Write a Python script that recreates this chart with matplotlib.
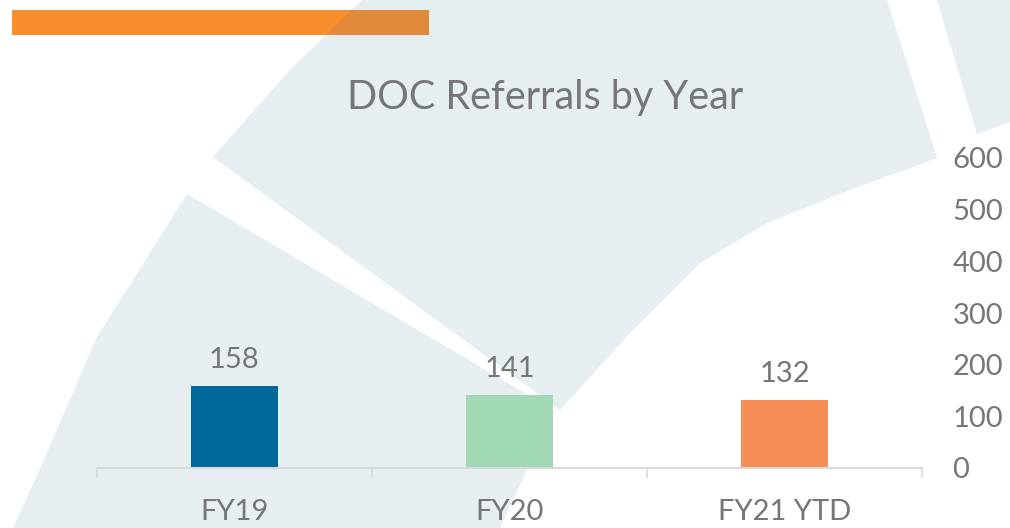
import numpy as np
import matplotlib
matplotlib.use('Agg')
import matplotlib.pyplot as plt
from matplotlib.patches import Polygon, Rectangle

# data
categories = ['FY19', 'FY20', 'FY21 YTD']
referrals = [158, 141, 132]
bar_colors = ['#006899', '#A0D9B4', '#F68E58']
yticks = [0, 100, 200, 300, 400, 500, 600]

text_col = '#767676'
plt.rcParams['font.family'] = ['Lato', 'DejaVu Sans']

fig = plt.figure(figsize=(10.10, 5.28), dpi=100)

# background watermark shapes (pixel coords of the slide)
bg = fig.add_axes([0, 0, 1, 1], zorder=0)
bg.set_xlim(0, 1010)
bg.set_ylim(528, 0)
bg.axis('off')
pale = '#E6EEF2'
shape_a = [(362, 0), (887, 0), (937, 158), (850, 190), (767, 223), (700, 263),
           (633, 330), (560, 410), (213, 157), (290, 70)]
shape_b = [(187, 194), (545, 405), (533, 457), (500, 528), (13, 528),
           (39, 471), (97, 337)]
shape_e = [(937, 0), (1010, 0), (1010, 122), (977, 134)]
for s in (shape_a, shape_b, shape_e):
    bg.add_patch(Polygon(s, closed=True, facecolor=pale, edgecolor='none'))

# orange header bar, darker where the watermark overlaps
hdr = Rectangle((12, 10), 417, 25, facecolor='#F78E2B', edgecolor='none')
bg.add_patch(hdr)
over = Polygon(shape_a, closed=True, facecolor='#E0893A', edgecolor='none')
bg.add_patch(over)
over.set_clip_path(hdr)

# chart
ax = fig.add_axes([97 / 1010, 60 / 528, 825 / 1010, 310 / 528], zorder=1)
ax.patch.set_visible(False)
x = np.arange(len(categories))
bars = ax.bar(x, referrals, width=0.316, color=bar_colors, zorder=2)
ax.set_xlim(-0.5, 2.5)
ax.set_ylim(0, 600)

for xi, v in zip(x, referrals):
    ax.annotate(str(v), (xi, v), xytext=(0, 13), textcoords='offset points',
                ha='center', va='baseline', fontsize=21, color=text_col)

for sp in ['top', 'left', 'right']:
    ax.spines[sp].set_visible(False)
ax.spines['bottom'].set_color('#D9D9D9')
ax.spines['bottom'].set_linewidth(1.5)

ax.set_xticks(x)
ax.set_xticklabels(categories, fontsize=21, color=text_col)
ax.tick_params(axis='x', which='major', length=0, pad=22)
ax.set_xticks([-0.5, 0.5, 1.5, 2.5], minor=True)
ax.tick_params(axis='x', which='minor', length=7.5, width=1.2, color='#D9D9D9')

ax.yaxis.tick_right()
ax.set_yticks(yticks)
ax.set_yticklabels([str(t) for t in yticks], fontsize=21, color=text_col, ha='left')
ax.tick_params(axis='y', length=0, pad=22)

fig.text(545 / 1010, 1 - 97 / 528, 'DOC Referrals by Year', ha='center', va='center',
         fontsize=28.5, color=text_col)

fig.savefig('out.png', dpi=100)
